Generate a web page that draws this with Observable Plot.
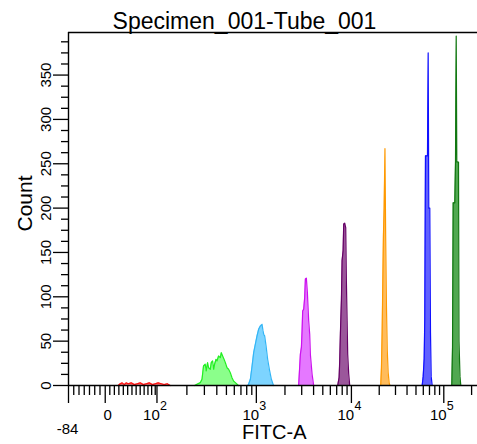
<!DOCTYPE html>
<html>
<head>
<meta charset="utf-8">
<script src="https://cdn.jsdelivr.net/npm/d3@7"></script>
<script src="https://cdn.jsdelivr.net/npm/@observablehq/plot@0.6"></script>
<style>
  html, body { margin: 0; padding: 0; background: #fff; }
  svg { display: block; }
</style>
</head>
<body>
<div id="chart"></div>
<script>
// ---- Data (FITC-A intensity, count per bin) ----
const redX   = [22.9, 26.5, 30.1, 33.8, 37.4, 41.1, 46.8, 52.5, 58.3, 64.3, 70.4, 76.6, 83.0, 89.6, 96.3, 103, 110.5, 118.4, 127, 136];
const redY   = [0, 2, 3, 1, 3, 2, 3, 1, 2, 3, 1, 2, 3, 1, 2, 3, 2, 1, 2, 0];

const greenX = [240, 253, 273, 284, 294, 306, 313, 323, 331, 344, 352, 363, 372, 380, 393, 402, 417, 434, 444, 458, 473, 488, 507, 526, 547, 569, 590, 615, 640, 660];
const greenY = [0, 1.4, 3.2, 7, 22, 24, 16.4, 25.7, 20, 18.3, 25.7, 27.7, 18.3, 24, 29.6, 27.7, 33.3, 31.4, 37, 33.3, 29.6, 25.7, 20, 18.3, 14.4, 8.8, 5, 3.2, 1.4, 0];

const skyX   = [820, 836, 871, 906, 940, 977, 1017, 1057, 1102, 1148, 1176, 1194, 1223, 1265, 1315, 1371, 1439, 1500, 1530];
const skyY   = [0, 1.4, 7, 22, 37, 46.5, 56, 63.4, 67, 69, 61.5, 57.8, 56, 44.6, 29.6, 18.3, 7, 1.4, 0];

const magentaX = [2786, 2904, 2978, 3028, 3072, 3148, 3223, 3280, 3359, 3441, 3500, 3553, 3641, 3702, 3855, 4008];
const magentaY = [0, 35, 43, 62, 84, 86, 99, 120, 121, 105, 88, 73, 58, 35, 13, 0];

const purpleX = [7178, 7422, 7534, 7656, 7848, 7980, 8178, 8300, 8500, 8710, 8850, 9010, 9140, 9367, 9600];
const purpleY = [0, 9, 28, 58, 96, 141, 152, 182, 183, 178, 118, 73, 35, 13, 0];

const orangeX = [20770, 21140, 21510, 21830, 22220, 22610, 23070, 23470, 23940, 24430, 24980, 25620, 26130];
const orangeY = [0, 20, 60, 110, 170, 200, 267, 170, 90, 40, 15, 3, 0];

const blueX = [58340, 59810, 61320, 62250, 63340, 64950, 66590, 67760, 68790, 70530, 71780, 73040, 74880];
const blueY = [0, 10, 30, 75, 259, 259, 259, 375, 200, 200, 60, 10, 0];

const darkGreenX = [122100, 124300, 126400, 131600, 133900, 136300, 138300, 144300, 146100, 149800, 152800];
const darkGreenY = [0, 43, 206, 206, 252, 394, 252, 252, 50, 10, 0];

const populations = ["P-red", "P-green", "P-sky", "P-magenta", "P-purple", "P-orange", "P-blue", "P-darkgreen"];
const strokes = ["#ff1010", "#22ee22", "#33b5f5", "#cc11ee", "#660066", "#ff9900", "#1010ff", "#117711"];
const fills   = ["#ff6060", "#77ff77", "#66ccff", "#e060ff", "#8a3a8a", "#ffb040", "#4444ff", "#339933"];
const seriesX = [redX, greenX, skyX, magentaX, purpleX, orangeX, blueX, darkGreenX];
const seriesY = [redY, greenY, skyY, magentaY, purpleY, orangeY, blueY, darkGreenY];

// ---- Axis ticks / labels ----
const yMajor = [0, 50, 100, 150, 200, 250, 300, 350];
const yMinor = [12.5, 25, 37.5, 62.5, 75, 87.5, 112.5, 125, 137.5, 162.5, 175, 187.5, 212.5, 225, 237.5,
                262.5, 275, 287.5, 312.5, 325, 337.5, 362.5, 375, 387.5];
const xMajor = [-84, 0, 100, 1000, 10000, 100000];
const xMinor = [-72, -60, -48, -36, -24, -12, 8, 16, 24, 32, 40, 48, 56, 64, 72, 80, 88, 96,
                200, 300, 400, 500, 600, 700, 800, 900,
                2000, 3000, 4000, 5000, 6000, 7000, 8000, 9000,
                20000, 30000, 40000, 50000, 60000, 70000, 80000, 90000, 200000];
const decadeValues = [100, 1000, 10000, 100000];
const decadeExponents = ["2", "3", "4", "5"];
const title = "Specimen_001-Tube_001";
const xTitle = "FITC-A";
const yTitle = "Count";
const xMin = -84, xMax = 231700;

// ---- Biexponential-like display transform for FITC-A ----
function fitc(v) {
  if (v <= 0) return v * (36.7 / 84);
  if (v <= 100) return 51.7 * Math.asinh(v / 115) / Math.asinh(100 / 115);
  const L = Math.log10(v);
  if (L <= 3) return 51.7 + (L - 2) * 99.3;
  if (L <= 4) return 151 + (L - 3) * 95;
  return 246 + (L - 4) * 92.3;
}

const FONT = "'Liberation Sans', Arial, Helvetica, sans-serif";
const NARROW = "'Liberation Sans Narrow', 'Arial Narrow', 'Liberation Sans', sans-serif";

const histMarks = [];
seriesX.forEach((xs, i) => {
  const rows = xs.map((x, j) => ({pop: populations[i], v: x, c: seriesY[i][j]}));
  histMarks.push(Plot.areaY(rows, {x: d => fitc(d.v), y: d => d.c, fill: fills[i], fillOpacity: 0.85, curve: "linear"}));
  histMarks.push(Plot.lineY(rows, {x: d => fitc(d.v), y: d => d.c, stroke: strokes[i], strokeWidth: 1.2, curve: "linear"}));
});

const chart = Plot.plot({
  width: 477,
  height: 444,
  marginLeft: 68,
  marginRight: 0,
  marginTop: 32,
  marginBottom: 59,
  style: {fontFamily: FONT, background: "#fff", color: "#000"},
  x: {domain: [fitc(xMin), fitc(xMax)]},
  y: {domain: [0, 398]},
  marks: [
    ...histMarks,
    // frame lines
    Plot.ruleY([0], {stroke: "#000", strokeWidth: 1.4}),
    Plot.ruleY([398], {stroke: "#000", strokeWidth: 1.4}),
    Plot.ruleX([fitc(xMin)], {stroke: "#000", strokeWidth: 1.4}),
    // y ticks
    Plot.axisY({ticks: yMajor, tickSize: 15, tickFormat: () => "", label: null, strokeWidth: 1.3}),
    Plot.axisY({ticks: yMinor, tickSize: 7, tickFormat: () => "", label: null, strokeWidth: 1.3}),
    // x ticks
    Plot.axisX({ticks: xMajor.map(fitc), tickSize: 18, tickFormat: () => "", label: null, strokeWidth: 1.3}),
    Plot.axisX({ticks: xMinor.map(fitc), tickSize: 10, tickFormat: () => "", label: null, strokeWidth: 1.3}),
    // y tick labels (rotated)
    Plot.text(yMajor, {y: d => d, text: d => String(d), frameAnchor: "left", dx: -22.3, rotate: -90,
      textAnchor: "middle", lineAnchor: "middle", fontSize: 15, fontFamily: NARROW, fill: "#000"}),
    // x tick labels
    Plot.text([xMin], {x: d => fitc(d), text: d => String(d), frameAnchor: "bottom", dx: -1, dy: 43.2,
      textAnchor: "middle", lineAnchor: "middle", fontSize: 15, fill: "#000"}),
    Plot.text([0], {x: d => fitc(d), text: d => String(d), frameAnchor: "bottom", dx: 2.5, dy: 29.5,
      textAnchor: "middle", lineAnchor: "middle", fontSize: 15, fill: "#000"}),
    Plot.text(decadeValues, {x: d => fitc(d), text: () => "10", frameAnchor: "bottom", dx: 2.8, dy: 29.5,
      textAnchor: "end", lineAnchor: "middle", fontSize: 15, fill: "#000"}),
    Plot.text(decadeValues, {x: d => fitc(d), text: (d, i) => decadeExponents[i], frameAnchor: "bottom", dx: 3, dy: 20.5,
      textAnchor: "start", lineAnchor: "middle", fontSize: 12.5, fill: "#000"}),
    // axis titles
    Plot.text([xTitle], {text: d => d, frameAnchor: "bottom", dx: 1.3, dy: 47.5,
      textAnchor: "middle", lineAnchor: "middle", fontSize: 20, fill: "#000"}),
    Plot.text([yTitle], {text: d => d, frameAnchor: "left", dx: -43.3, dy: -5.5, rotate: -90,
      textAnchor: "middle", lineAnchor: "middle", fontSize: 21, fill: "#000"}),
    Plot.text([title], {text: d => d, frameAnchor: "top", dx: -28.5, dy: -10.9,
      textAnchor: "middle", lineAnchor: "middle", fontSize: 23, fill: "#000"})
  ]
});
document.getElementById("chart").appendChild(chart);
</script>
</body>
</html>
